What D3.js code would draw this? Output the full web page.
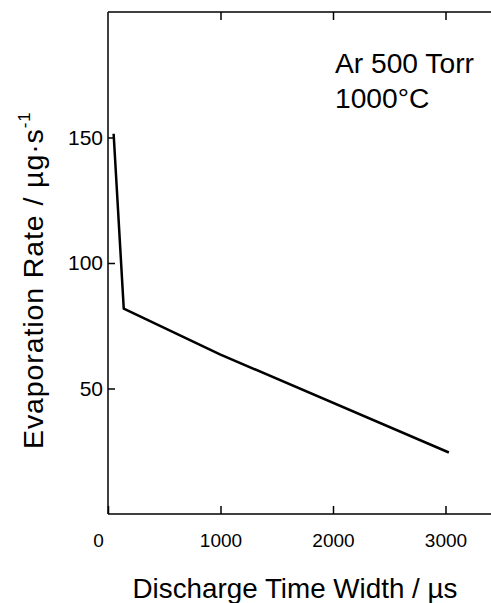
<!DOCTYPE html>
<html>
<head>
<meta charset="utf-8">
<script src="https://cdn.jsdelivr.net/npm/d3@7"></script>
<style>
  body { margin: 0; background: #fff; }
  svg { display: block; font-family: "Liberation Sans", Arial, Helvetica, sans-serif; }
</style>
</head>
<body>
<svg id="chart" width="491" height="603"></svg>
<script>
// discharge time width (us) vs evaporation rate (ug/s)
var timeWidth = [50, 140, 1000, 3030];
var evapRate = [151.5, 81.8, 63.5, 24.5];

var xTicks = [0, 1000, 2000, 3000];
var yTicks = [50, 100, 150];
var notes = ["Ar 500 Torr", "1000\u00B0C"];

var plotLeft = 108, plotTop = 12, plotBottom = 514;

var svg = d3.select('#chart');

var x = d3.scaleLinear().domain([0, 3500]).range([plotLeft, plotLeft + 3500 * 0.1125]);
var y = d3.scaleLinear().domain([0, 200]).range([plotBottom, plotTop]);

// frame: bottom, top and left lines (right side runs off the picture)
var frame = svg.append("g")
    .attr("stroke", "#000")
    .attr("stroke-width", 1.5)
    .attr("fill", "none");
frame.append("line").attr("x1", plotLeft).attr("y1", plotBottom).attr("x2", 491).attr("y2", plotBottom);
frame.append("line").attr("x1", plotLeft).attr("y1", plotTop).attr("x2", 491).attr("y2", plotTop);
frame.append("line").attr("x1", plotLeft).attr("y1", plotTop).attr("x2", plotLeft).attr("y2", plotBottom);

var xAxis = svg.append("g")
    .attr("transform", "translate(0," + plotBottom + ")")
    .call(d3.axisBottom(x).tickValues(xTicks).tickSize(-8).tickPadding(20).tickFormat(d3.format("d")));

var xTop = svg.append("g")
    .attr("transform", "translate(0," + plotTop + ")")
    .call(d3.axisTop(x).tickValues(xTicks.slice(1)).tickSize(-8).tickFormat(""));

var yAxis = svg.append("g")
    .attr("transform", "translate(" + plotLeft + ",0)")
    .call(d3.axisLeft(y).tickValues(yTicks).tickSize(-7).tickPadding(5));

[xAxis, xTop, yAxis].forEach(function (g) {
    g.select(".domain").remove();
    g.selectAll(".tick line").attr("stroke", "#000").attr("stroke-width", 1.5);
    g.selectAll(".tick text")
        .attr("fill", "#000")
        .style("font-family", "Liberation Sans, Arial, sans-serif");
});
xAxis.selectAll(".tick text").style("font-size", "19px");
yAxis.selectAll(".tick text").style("font-size", "21px");
// the 0 label sits a bit left of the axis in the original
xAxis.selectAll(".tick text").filter(function (d) { return d === 0; }).attr("dx", -10);

var line = d3.line()
    .x(function (d) { return x(d[0]); })
    .y(function (d) { return y(d[1]); });

svg.append("path")
    .datum(d3.zip(timeWidth, evapRate))
    .attr("d", line)
    .attr("fill", "none")
    .attr("stroke", "#000")
    .attr("stroke-width", 2.5)
    .attr("stroke-linejoin", "round");

svg.selectAll("text.note")
    .data(notes)
    .enter().append("text")
    .attr("class", "note")
    .attr("x", 335)
    .attr("y", function (d, i) { return 73 + i * 34.5; })
    .style("font-size", "28.2px")
    .text(function (d) { return d; });

svg.append("text")
    .attr("x", 295)
    .attr("y", 598)
    .attr("text-anchor", "middle")
    .style("font-size", "27.8px")
    .text("Discharge Time Width / \u00B5s");

var yTitle = svg.append("text")
    .attr("transform", "translate(43,449) rotate(-90)")
    .style("font-size", "28.5px")
    .style("letter-spacing", "0.9px");
yTitle.append("tspan").text("Evaporation Rate / \u00B5g\u00B7s");
yTitle.append("tspan").attr("dy", -13).style("font-size", "17px").text("-1");
</script>
</body>
</html>
